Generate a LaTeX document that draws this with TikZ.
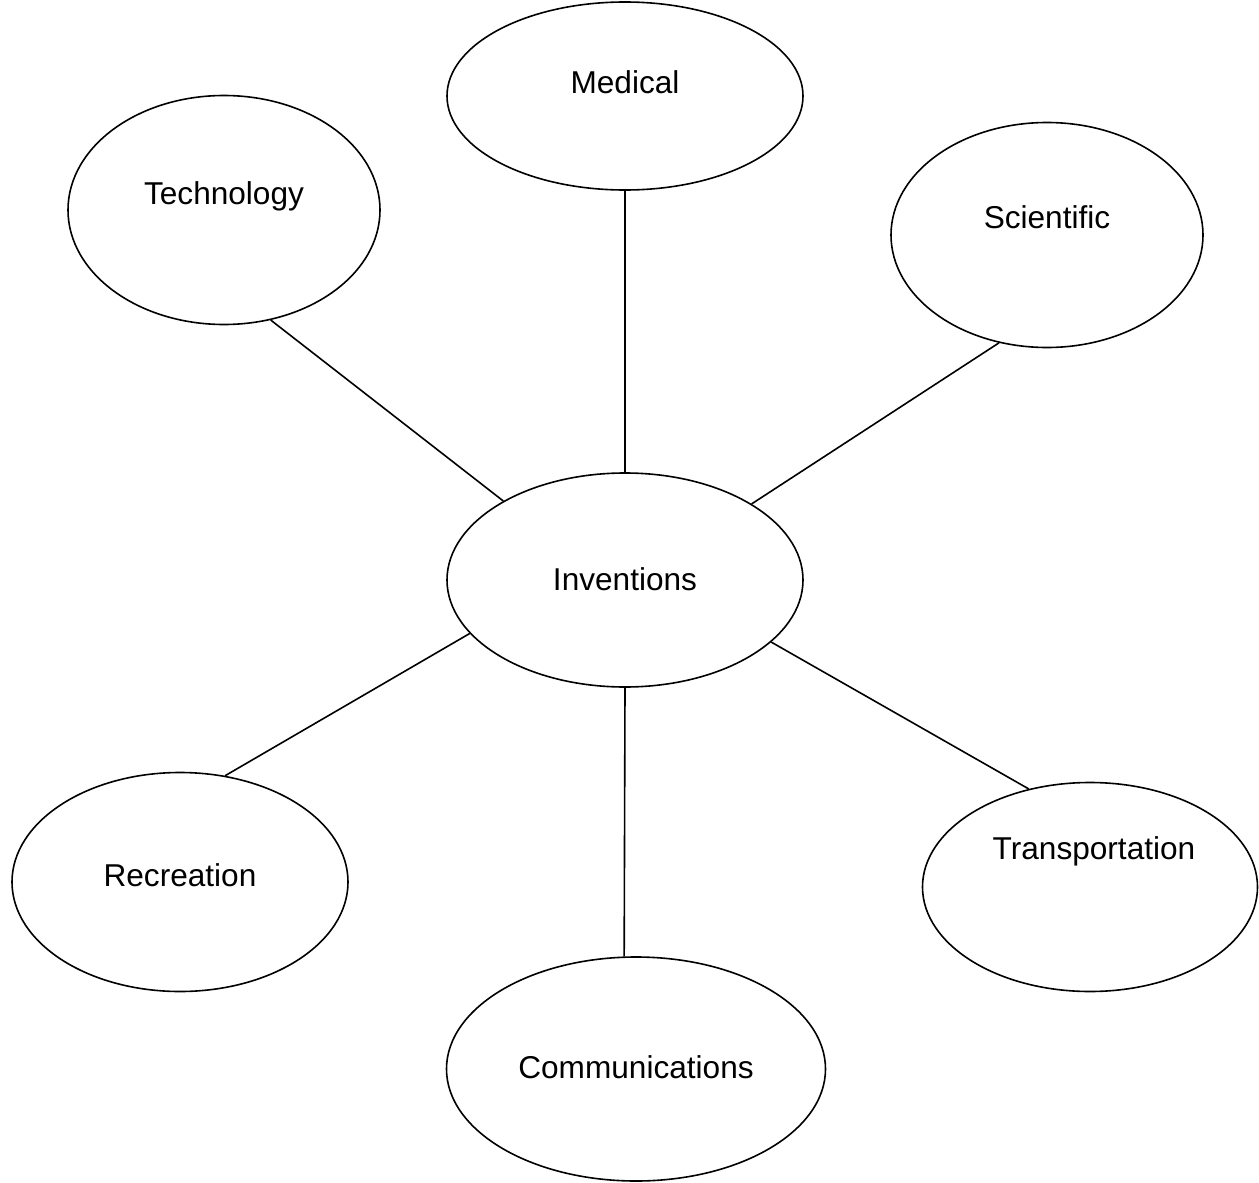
\documentclass[tikz,border=0pt]{standalone}
\usepackage{fontspec}
\setmainfont{Liberation Sans}
\usetikzlibrary{shapes.geometric}

\tikzset{
  bubble/.style={draw, ellipse, line width=0.8pt, inner sep=0pt},
  txt/.style={font=\fontsize{15.8pt}{18pt}\selectfont, inner sep=0pt},
  spoke/.style={line width=0.8pt}
}

\begin{document}
\begin{tikzpicture}[x=0.5pt, y=-0.5pt]
\useasboundingbox (0,0) rectangle (1259,1183);
% outer ellipses
\node[bubble, minimum width=178pt, minimum height=107pt] (inv) at (625,580) {};
\node[bubble, minimum width=178pt, minimum height=94pt] (med) at (625,96) {};
\node[bubble, minimum width=156pt, minimum height=114.5pt] (tech) at (224,210) {};
\node[bubble, minimum width=156pt, minimum height=112.5pt] (sci) at (1047,235) {};
\node[bubble, minimum width=168pt, minimum height=109.5pt] (rec) at (180,882) {};
\node[bubble, minimum width=167.5pt, minimum height=104.5pt] (trans) at (1090,887) {};
\node[bubble, minimum width=189.5pt, minimum height=112pt] (comm) at (636,1069) {};
% labels
\node[txt] (invtxt) at (625,579) {Inventions};
\node[txt] (medtxt) at (625,82) {Medical};
\node[txt] (techtxt) at (224,196) {Technology};
\node[txt] (scitxt) at (1047,217) {Scientific};
\node[txt] (rectxt) at (180,875) {Recreation};
\node[txt] (transtxt) at (1094,851) {Transportation};
\node[txt] (commtxt) at (636,1067) {Communications};
% spokes
\draw[spoke] (med.south) -- (inv.north);
\draw[spoke] (tech.-67) -- (inv.147);
\draw[spoke] (sci.246) -- (inv.31);
\draw[spoke] (rec.67) -- (inv.199);
\draw[spoke] (inv.south) -- (comm.96);
\draw[spoke] (trans.122) -- (inv.-23);
\end{tikzpicture}
\end{document}
